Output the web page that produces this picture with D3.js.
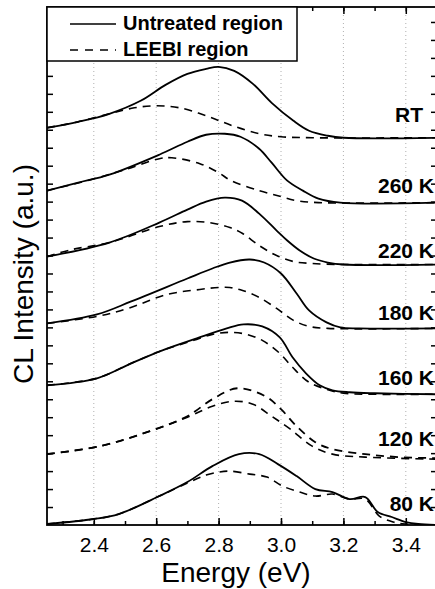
<!DOCTYPE html>
<html><head><meta charset="utf-8">
<script src="https://cdn.jsdelivr.net/npm/d3@7"></script>
<style>
html,body{margin:0;padding:0;background:#fff;overflow:hidden;}
svg{display:block;font-family:"Liberation Sans",Arial,sans-serif;}
</style></head>
<body>
<svg id="chart" width="435" height="589"></svg>
<script>
// ---- data ----
const temperatures = ["RT", "260 K", "220 K", "180 K", "160 K", "120 K", "80 K"];
const baselines = [388, 323, 261, 197, 131, 66, 0];   // vertical offset of each spectrum (a.u.)
const xTicks = [2.4, 2.6, 2.8, 3.0, 3.2, 3.4];
const xDomain = [2.25, 3.5];
const yDomain = [0, 519];
const yTickStep = 18;
const legendLabels = ["Untreated region", "LEEBI region"];

const untreatedRT = [[2.25,10],[2.35,16],[2.45,24],[2.55,37],[2.63,53],[2.70,64],[2.76,69],[2.80,71],[2.85,67],[2.91,54],[2.97,35],[3.04,17],[3.09,7],[3.15,2],[3.2,0],[3.5,0]];
const leebiRT = [[2.25,10],[2.35,16],[2.45,24],[2.53,30],[2.60,32],[2.675,30],[2.76,22],[2.845,12],[2.93,4],[3.0,1],[3.1,0],[3.5,0]];
const untreated260 = [[2.25,12],[2.35,20],[2.45,28],[2.61,48],[2.70,61],[2.76,68],[2.82,69],[2.87,66],[2.93,54],[2.97,40],[3.02,22],[3.07,12],[3.12,4],[3.19,0],[3.5,0]];
const leebi260 = [[2.25,12],[2.39,23],[2.50,33],[2.61,44],[2.65,45],[2.74,39],[2.80,30],[2.84,22],[2.93,12],[3.0,6],[3.05,2],[3.12,0],[3.5,0]];
const untreated220 = [[2.25,8],[2.45,22],[2.61,42],[2.70,55],[2.76,63],[2.82,67],[2.875,64],[2.93,51],[2.986,34],[3.02,24],[3.06,14],[3.105,6],[3.15,2],[3.2,0],[3.5,0]];
const leebi220 = [[2.25,8],[2.33,15],[2.45,22],[2.61,38],[2.70,43],[2.77,42],[2.836,37],[2.877,31],[2.93,19],[2.986,9],[3.04,3],[3.1,1],[3.2,0],[3.5,0]];
const untreated180 = [[2.25,5],[2.41,14],[2.52,27],[2.70,50],[2.78,60],[2.836,66],[2.90,69],[2.946,66],[3.0,55],[3.05,35],[3.09,18],[3.146,6],[3.19,1],[3.25,0],[3.5,0]];
const leebi180 = [[2.25,5],[2.41,12],[2.51,20],[2.635,34],[2.74,39],[2.80,41],[2.836,41],[2.877,38],[2.93,31],[2.986,20],[3.04,8],[3.09,2],[3.15,0],[3.5,0]];
const untreated160 = [[2.25,9],[2.41,16],[2.52,31],[2.62,44],[2.73,56],[2.826,66],[2.88,70],[2.94,68],[2.996,57],[3.037,37],[3.08,21],[3.124,9],[3.165,4],[3.22,2],[3.3,1],[3.5,0]];
const leebi160 = [[2.25,9],[2.41,16],[2.52,31],[2.62,44],[2.72,54],[2.78,60],[2.836,62],[2.89,60],[2.94,54],[2.996,41],[3.037,27],[3.09,12],[3.146,5],[3.2,1],[3.3,0],[3.5,0]];
const untreated120 = [[2.25,5],[2.42,13],[2.57,27],[2.70,43],[2.78,60],[2.86,71],[2.95,63],[3.0,50],[3.05,33],[3.11,17],[3.165,10],[3.27,5],[3.38,2],[3.5,1]];
const leebi120 = [[2.25,5],[2.42,13],[2.57,27],[2.70,42],[2.78,53],[2.85,58],[2.91,55],[2.97,43],[3.03,30],[3.10,13],[3.165,5],[3.27,2],[3.5,0]];
const untreated80 = [[2.25,1],[2.40,6],[2.48,11],[2.61,29],[2.70,43],[2.78,59],[2.865,71],[2.93,71],[2.99,61],[3.05,49],[3.11,36],[3.165,33],[3.22,26],[3.27,28],[3.31,13],[3.355,8],[3.40,3],[3.44,1],[3.5,0]];
const leebi80 = [[2.25,1],[2.40,6],[2.48,11],[2.61,29],[2.70,42],[2.76,50],[2.80,53],[2.835,54],[2.90,51],[2.955,48],[3.005,39],[3.06,33],[3.11,29],[3.165,31],[3.22,26],[3.27,26],[3.315,9],[3.36,3],[3.40,1],[3.5,0]];

const untreatedSeries = [untreatedRT, untreated260, untreated220, untreated180, untreated160, untreated120, untreated80];
const leebiSeries = [leebiRT, leebi260, leebi220, leebi180, leebi160, leebi120, leebi80];

// ---- layout ----
const W = 435, H = 589;
const L = 47, T = 7, R = 437, B = 525;
const labelBaselineY = [122, 193, 258, 320, 385, 446, 511];
const labelRightX = [423, 434, 434, 434, 434, 434, 434];
const svg = d3.select("#chart");
const x = d3.scaleLinear().domain(xDomain).range([L, R]);
const y = d3.scaleLinear().domain(yDomain).range([B, T]);

svg.append("defs").append("clipPath").attr("id","clip")
  .append("rect").attr("x",L).attr("y",T).attr("width",R-L).attr("height",B-T);

// grid (dotted vertical)
svg.append("g").selectAll("line").data(xTicks).join("line")
  .attr("x1",d=>x(d)).attr("x2",d=>x(d)).attr("y1",T).attr("y2",B)
  .attr("stroke","#b0b0b0").attr("stroke-width",1).attr("stroke-dasharray","1,3");

// curves
const line = d3.line().x(d=>x(d[0])).curve(d3.curveCatmullRom.alpha(0.5));
const gC = svg.append("g").attr("clip-path","url(#clip)");
const dash = "8,6";
temperatures.forEach((t,i)=>{
  const off = baselines[i];
  line.y(d=>y(d[1]+off));
  gC.append("path").datum(leebiSeries[i]).attr("d",line)
    .attr("fill","none").attr("stroke","#000").attr("stroke-width",1.6).attr("stroke-dasharray",dash);
  gC.append("path").datum(untreatedSeries[i]).attr("d",line)
    .attr("fill","none").attr("stroke","#000").attr("stroke-width",1.8)
    .attr("stroke-dasharray", t==="120 K" ? dash : null);
});

// axes (ticks inward)
const minorX = d3.range(2.3, 3.51, 0.1).map(v=>+v.toFixed(2));
const yTicks = d3.range(yTickStep, yDomain[1], yTickStep);
svg.append("g").attr("transform",`translate(0,${B})`)
  .call(d3.axisBottom(x).tickValues(minorX).tickSize(-4).tickFormat(""))
  .call(g=>g.select(".domain").remove());
svg.append("g").attr("transform",`translate(0,${B})`)
  .call(d3.axisBottom(x).tickValues(xTicks).tickSize(-7).tickPadding(12).tickFormat(d3.format(".1f")))
  .call(g=>g.select(".domain").remove())
  .call(g=>g.selectAll("text").attr("font-size",21).attr("fill","#000").attr("font-family","Liberation Sans, Arial, sans-serif"));
svg.append("g").attr("transform",`translate(0,${T})`)
  .call(d3.axisTop(x).tickValues(minorX).tickSize(-4).tickFormat(""))
  .call(g=>g.select(".domain").remove());
svg.append("g").attr("transform",`translate(0,${T})`)
  .call(d3.axisTop(x).tickValues(xTicks).tickSize(-7).tickFormat(""))
  .call(g=>g.select(".domain").remove());
svg.append("g").attr("transform",`translate(${L},0)`)
  .call(d3.axisLeft(y).tickValues(yTicks).tickSize(-6).tickFormat(""))
  .call(g=>g.select(".domain").remove());
svg.append("g").attr("transform",`translate(${R},0)`)
  .call(d3.axisRight(y).tickValues(yTicks).tickSize(-6).tickFormat(""))
  .call(g=>g.select(".domain").remove());
svg.selectAll(".tick line").attr("stroke","#000").attr("stroke-width",1.5);

// frame
svg.append("rect").attr("x",L).attr("y",T).attr("width",R-L).attr("height",B-T)
  .attr("fill","none").attr("stroke","#000").attr("stroke-width",1.8);

// temperature labels
svg.append("g").selectAll("text").data(temperatures).join("text")
  .attr("x",(d,i)=>labelRightX[i])
  .attr("y",(d,i)=>labelBaselineY[i])
  .attr("text-anchor","end").attr("font-weight","bold").attr("font-size",21)
  .text(d=>d);

// legend
const lg = svg.append("g");
lg.append("rect").attr("x",L).attr("y",T).attr("width",250).attr("height",54)
  .attr("fill","#fff").attr("stroke","#000").attr("stroke-width",1.5);
legendLabels.forEach((lab,i)=>{
  const yy = 24 + i*26;
  lg.append("line").attr("x1",70).attr("x2",116).attr("y1",yy).attr("y2",yy)
    .attr("stroke","#000").attr("stroke-width",1.6).attr("stroke-dasharray", i===1 ? "8,7" : null);
  lg.append("text").attr("x",123).attr("y",yy+6).attr("font-size",20).attr("font-weight","bold").text(lab);
});

// axis titles
svg.append("text").attr("x",236).attr("y",582).attr("text-anchor","middle")
  .attr("font-size",28).text("Energy (eV)");
svg.append("text").attr("transform","translate(33,274) rotate(-90)").attr("text-anchor","middle")
  .attr("font-size",28).text("CL Intensity (a.u.)");
</script>
</body></html>
